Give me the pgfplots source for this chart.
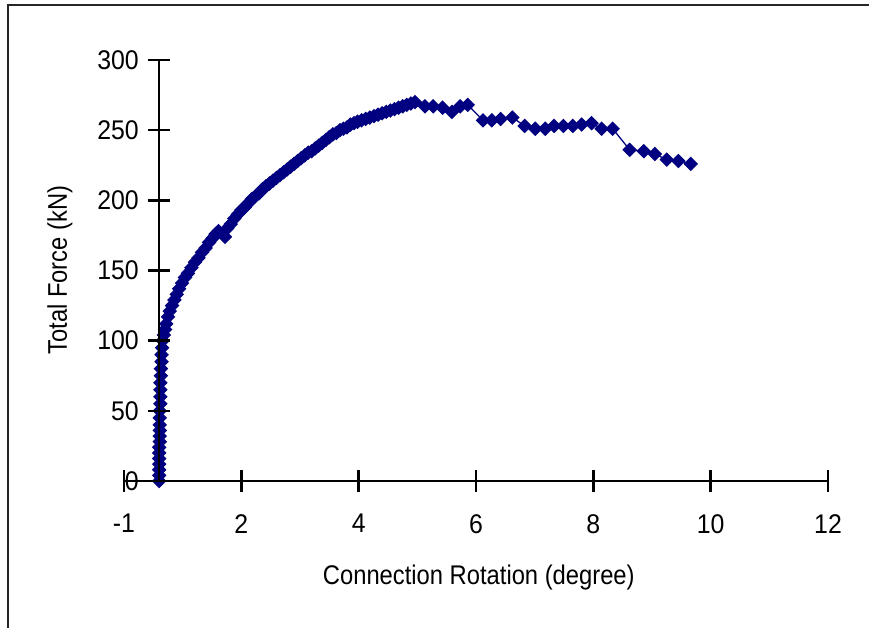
\documentclass[border=0pt]{standalone}
\usepackage{fontspec}
\setmainfont{Liberation Sans}[FakeStretch=0.88]
\newfontfamily\tickfamily{Liberation Sans}[FakeStretch=0.92]
\usepackage{pgfplots}
\pgfplotsset{compat=1.18}
\newcommand\bigf{\fontsize{27bp}{32bp}\selectfont}
\newcommand\tickf{\tickfamily\fontsize{27bp}{32bp}\selectfont}

\definecolor{navy}{rgb}{0,0,0.5}
\definecolor{frame}{rgb}{0.15,0.15,0.15}

\pgfplotstableread{
x y
0.60 0
0.60 4
0.60 8
0.60 12
0.60 16
0.60 20
0.60 24
0.61 28
0.61 32
0.61 36
0.61 40
0.61 45
0.61 50
0.62 55
0.62 60
0.62 65
0.62 70
0.63 75
0.63 80
0.64 85
0.64 90
0.65 95
0.66 100
0.68 104
0.70 108
0.72 112
0.75 117
0.78 121
0.82 125
0.86 129
0.90 133
0.94 137
0.99 141
1.04 145
1.09 148
1.15 152
1.21 156
1.27 159
1.33 163
1.39 166
1.45 170
1.51 173
1.56 176
1.61 178
1.72 174
1.76 180
1.82 183
1.88 187
1.94 190
2.00 193
2.06 195
2.12 198
2.18 201
2.24 203
2.30 205
2.36 208
2.42 210
2.48 212
2.54 214
2.60 216
2.66 218
2.72 220
2.78 222
2.84 224
2.90 226
2.96 228
3.02 230
3.08 232
3.14 234
3.20 235
3.26 237
3.32 239
3.38 241
3.44 243
3.50 245
3.56 247
3.62 248
3.68 250
3.74 251
3.80 252
3.86 254
3.92 255
3.98 256
4.05 257
4.12 258
4.19 259
4.26 260
4.33 261
4.40 262
4.47 263
4.54 264
4.61 265
4.68 266
4.75 267
4.82 268
4.89 269
4.96 270
5.13 267
5.27 267
5.43 266
5.59 263
5.73 267
5.86 268
6.12 257
6.27 257
6.42 258
6.62 259
6.83 253
7.01 251
7.18 251
7.33 253
7.49 253
7.65 253
7.80 254
7.97 255
8.14 251
8.33 251
8.62 236
8.86 235
9.05 233
9.25 229
9.45 228
9.66 226
}\forcedata

\begin{document}
\bigf
\begin{tikzpicture}
\useasboundingbox (0,0) rectangle (869bp,628bp);
\draw[line width=2bp, frame] (8bp,0) -- (8bp,623bp) -- (869bp,623bp);

% x axis and the data
\begin{axis}[
  at={(124bp,147bp)}, anchor=south west,
  scale only axis, width=704bp, height=421bp,
  xmin=0, xmax=12, ymin=0, ymax=300,
  axis x line=bottom, axis y line=none,
  axis line style={-, line width=2.5bp, black},
  xtick={0,2,...,12},
  xticklabels={-1,2,4,6,8,10,12},
  xticklabel style={font=\tickf},
  tick align=center, major tick length=22bp,
  tick style={line width=2.5bp, black},
  xticklabel shift=13bp,
  xlabel={Connection Rotation (degree)},
  xlabel style={at={(axis description cs:0.504,-0.23)}, anchor=center, font=\bigf},
  clip=false,
]
\addplot[navy, line width=1.3bp, mark=square*, mark size=4.5bp,
  mark options={rotate=45, fill=navy, draw=navy}] table[x=x, y=y] {\forcedata};
\end{axis}

% y axis, drawn where the reference has it
\begin{axis}[
  at={(159bp,147bp)}, anchor=south west,
  scale only axis, width=100bp, height=421bp,
  xmin=0, xmax=1, ymin=0, ymax=300,
  axis y line=left, axis x line=none,
  axis line style={-, line width=2.5bp, black},
  ytick={0,50,...,300},
  yticklabel style={font=\tickf},
  /pgf/number format/assume math mode=true,
  tick align=center, major tick length=22bp,
  tick style={line width=2.5bp, black},
  ylabel={Total Force (kN)},
  ylabel style={at={(axis description cs:-0.99,0.501)}, anchor=center, font=\bigf},
]
\addplot[draw=none] coordinates {(0,0)};
\end{axis}
\end{tikzpicture}
\end{document}
